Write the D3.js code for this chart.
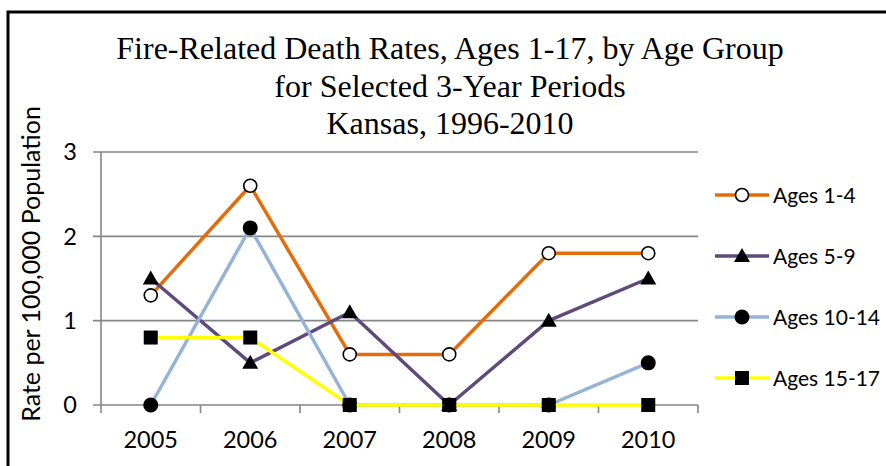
<!DOCTYPE html>
<html>
<head>
<meta charset="utf-8">
<script src="https://cdn.jsdelivr.net/npm/d3@7"></script>
<style>
  body { margin: 0; background: #fff; }
  .title { font-family: "Liberation Serif", "Times New Roman", serif; font-size: 32px; fill: #000; }
  .label { font-family: Lato, "Open Sans", sans-serif; fill: #000; }
</style>
</head>
<body>
<div id="wrapper"></div>
<script>
const years = ["2005", "2006", "2007", "2008", "2009", "2010"]
const ages1to4 = [1.3, 2.6, 0.6, 0.6, 1.8, 1.8]
const ages5to9 = [1.5, 0.5, 1.1, 0, 1.0, 1.5]
const ages10to14 = [0, 2.1, 0, 0, 0, 0.5]
const ages15to17 = [0.8, 0.8, 0, 0, 0, 0]
const seriesNames = ["Ages 1-4", "Ages 5-9", "Ages 10-14", "Ages 15-17"]
const yTicks = [0, 1, 2, 3]
const titleLines = [
  "Fire-Related Death Rates, Ages 1-17, by Age Group",
  "for Selected 3-Year Periods",
  "Kansas, 1996-2010"
]

function drawLineChart() {
  const seriesValues = [ages1to4, ages5to9, ages10to14, ages15to17]
  const colors = ["#E46C0A", "#604A7B", "#95B3D7", "#FFFF00"]
  const markers = ["openCircle", "triangle", "circle", "square"]

  const series = seriesNames.map((name, i) => ({
    name: name,
    color: colors[i],
    marker: markers[i],
    values: seriesValues[i].map((v, j) => ({ year: years[j], value: v }))
  }))

  let dimensions = {
    width: 886,
    height: 466,
    margin: {
      top: 152,
      right: 188,
      bottom: 61,
      left: 101
    }
  }
  dimensions.boundedWidth = dimensions.width
    - dimensions.margin.left
    - dimensions.margin.right
  dimensions.boundedHeight = dimensions.height
    - dimensions.margin.top
    - dimensions.margin.bottom

  const xScale = d3.scaleBand()
    .domain(years)
    .range([0, dimensions.boundedWidth])
  const xCenter = d => xScale(d) + xScale.bandwidth() / 2

  const yScale = d3.scaleLinear()
    .domain([0, 3])
    .range([dimensions.boundedHeight, 0])

  const wrapper = d3.select("#wrapper")
    .append("svg")
      .attr("width", dimensions.width)
      .attr("height", dimensions.height)

  wrapper.append("rect")
    .attr("width", dimensions.width)
    .attr("height", dimensions.height)
    .attr("fill", "#fff")

  // outer frame, runs off the right and bottom edges
  wrapper.append("rect")
    .attr("x", 8)
    .attr("y", 12)
    .attr("width", 900)
    .attr("height", 480)
    .attr("fill", "none")
    .attr("stroke", "#000")
    .attr("stroke-width", 3)

  wrapper.append("g")
    .selectAll("text")
    .data(titleLines)
    .enter().append("text")
      .attr("class", "title")
      .attr("x", 450)
      .attr("y", (d, i) => 59 + i * 37.5)
      .attr("text-anchor", "middle")
      .text(d => d)

  const bounds = wrapper.append("g")
    .attr("transform", `translate(${dimensions.margin.left}, ${dimensions.margin.top})`)

  // gridlines
  bounds.append("g")
    .selectAll("line")
    .data(yTicks)
    .enter().append("line")
      .attr("x1", -8)
      .attr("x2", dimensions.boundedWidth)
      .attr("y1", d => yScale(d))
      .attr("y2", d => yScale(d))
      .attr("stroke", "#868686")
      .attr("stroke-width", 1.6)

  // axes
  bounds.append("line")
    .attr("x1", 0)
    .attr("x2", 0)
    .attr("y1", 0)
    .attr("y2", dimensions.boundedHeight)
    .attr("stroke", "#868686")
    .attr("stroke-width", 1.6)

  const xTickPositions = years.map(d => xScale(d)).concat([dimensions.boundedWidth])
  bounds.append("g")
    .selectAll("line")
    .data(xTickPositions)
    .enter().append("line")
      .attr("x1", d => d)
      .attr("x2", d => d)
      .attr("y1", dimensions.boundedHeight)
      .attr("y2", dimensions.boundedHeight + 8)
      .attr("stroke", "#868686")
      .attr("stroke-width", 1.6)

  bounds.append("g")
    .selectAll("text")
    .data(yTicks)
    .enter().append("text")
      .attr("class", "label")
      .attr("x", -24)
      .attr("y", d => yScale(d))
      .attr("dy", "0.36em")
      .attr("text-anchor", "end")
      .style("font-size", "23.5px")
      .text(d => d)

  bounds.append("g")
    .selectAll("text")
    .data(years)
    .enter().append("text")
      .attr("class", "label")
      .attr("x", d => xCenter(d))
      .attr("y", dimensions.boundedHeight + 43)
      .attr("text-anchor", "middle")
      .style("font-size", "23.5px")
      .text(d => d)

  wrapper.append("text")
    .attr("class", "label")
    .attr("transform", "translate(40, 264) rotate(-90)")
    .attr("text-anchor", "middle")
    .style("font-size", "25px")
    .text("Rate per 100,000 Population")

  // marker shapes
  function drawMarker(sel, type, x, y) {
    if (type === "openCircle") {
      sel.append("circle")
        .attr("cx", x).attr("cy", y).attr("r", 6.5)
        .attr("fill", "#fff").attr("stroke", "#000").attr("stroke-width", 1.6)
    } else if (type === "circle") {
      sel.append("circle")
        .attr("cx", x).attr("cy", y).attr("r", 7.5)
        .attr("fill", "#000")
    } else if (type === "triangle") {
      sel.append("path")
        .attr("d", `M${x},${y - 8} L${x + 8},${y + 6} L${x - 8},${y + 6} Z`)
        .attr("fill", "#000")
    } else {
      sel.append("rect")
        .attr("x", x - 7).attr("y", y - 7).attr("width", 14).attr("height", 14)
        .attr("fill", "#000")
    }
  }

  const lineGenerator = d3.line()
    .x(d => xCenter(d.year))
    .y(d => yScale(d.value))

  series.forEach(s => {
    const g = bounds.append("g")
    g.append("path")
      .datum(s.values)
      .attr("d", lineGenerator)
      .attr("fill", "none")
      .attr("stroke", s.color)
      .attr("stroke-width", 3.5)
      .attr("stroke-linejoin", "round")
    s.values.forEach(d => drawMarker(g, s.marker, xCenter(d.year), yScale(d.value)))
  })

  // legend
  const legend = wrapper.append("g")
    .attr("transform", "translate(715, 195)")

  series.forEach((s, i) => {
    const row = legend.append("g")
      .attr("transform", `translate(0, ${i * 61})`)
    row.append("line")
      .attr("x1", 0)
      .attr("x2", 54)
      .attr("stroke", s.color)
      .attr("stroke-width", 3.5)
    drawMarker(row, s.marker, 27, 0)
    row.append("text")
      .attr("class", "label")
      .attr("x", 58)
      .attr("dy", "0.36em")
      .style("font-size", "21px")
      .text(s.name)
  })
}

drawLineChart()
</script>
</body>
</html>
